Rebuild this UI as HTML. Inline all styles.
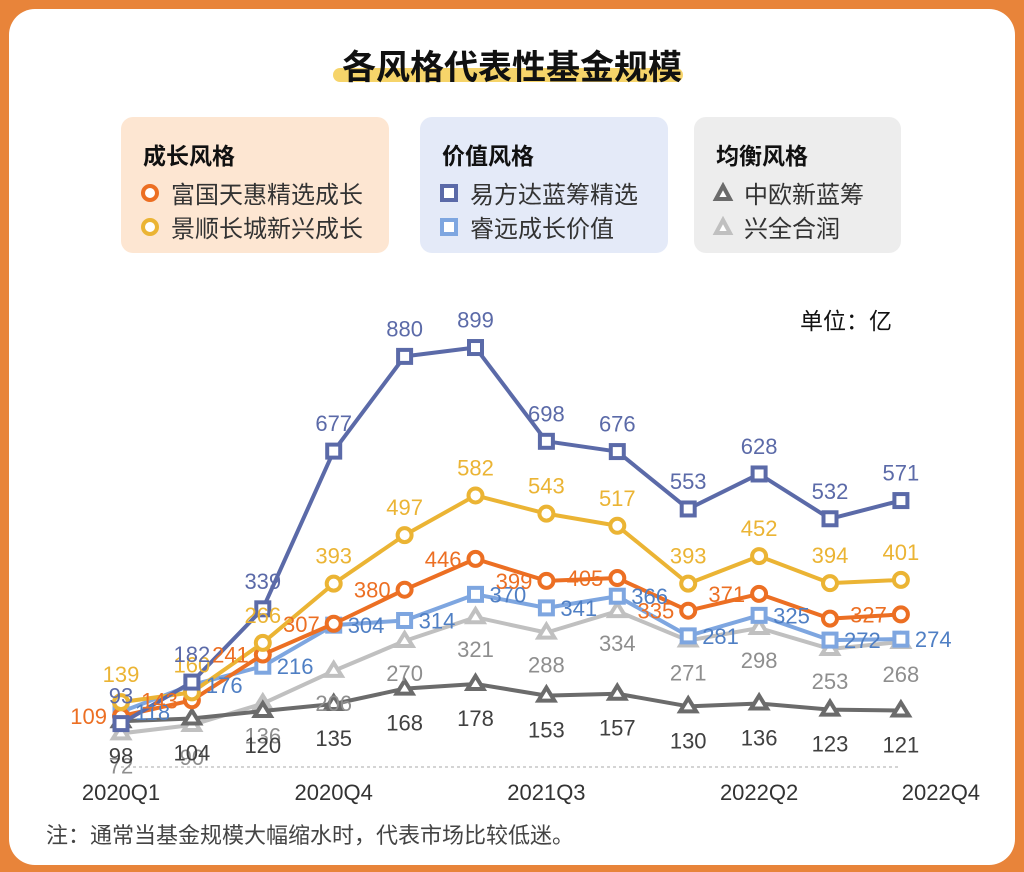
<!DOCTYPE html>
<html><head><meta charset="utf-8">
<style>
html,body{margin:0;padding:0;}
body{width:1024px;height:872px;background:#e8843a;position:relative;overflow:hidden;font-family:"Liberation Sans","Noto Sans CJK SC",sans-serif;}
#card{position:absolute;left:9px;top:9px;width:1006px;height:856px;background:#fff;border-radius:26px;}
.title{position:absolute;left:0;width:1024px;top:40px;text-align:center;font-size:34px;font-weight:bold;color:#111;z-index:2;}
.hl{position:absolute;left:333px;top:68px;width:350px;height:14px;background:#f6d46a;border-radius:7px;}
.box{position:absolute;top:117px;height:136px;border-radius:12px;}
.box h3{margin:0;position:absolute;left:22px;top:20px;font-size:23px;font-weight:bold;color:#111;}
.item{position:absolute;left:18px;font-size:24px;color:#333;display:flex;align-items:center;white-space:nowrap;}
.item svg{margin-right:10px;}
.unit{position:absolute;left:800px;top:302px;font-size:23px;color:#111;}
.note{position:absolute;left:46px;top:818px;font-size:22px;color:#444;}
</style></head><body>
<div id="card"></div>
<div class="hl"></div>
<div class="title">各风格代表性基金规模</div>

<div class="box" style="left:121px;width:268px;background:#fde6d2">
<h3>成长风格</h3>
<div class="item" style="top:58px"><svg width="22" height="22"><circle cx="11" cy="11" r="7" fill="#fff" stroke="#ec6f23" stroke-width="4"/></svg>富国天惠精选成长</div>
<div class="item" style="top:92px"><svg width="22" height="22"><circle cx="11" cy="11" r="7" fill="#fff" stroke="#ebb434" stroke-width="4"/></svg>景顺长城新兴成长</div>
</div>
<div class="box" style="left:420px;width:248px;background:#e4eaf8">
<h3>价值风格</h3>
<div class="item" style="top:58px"><svg width="22" height="22"><rect x="4" y="4" width="14" height="14" fill="#fff" stroke="#5b6aa8" stroke-width="4"/></svg>易方达蓝筹精选</div>
<div class="item" style="top:92px"><svg width="22" height="22"><rect x="4" y="4" width="14" height="14" fill="#fff" stroke="#7ea6e0" stroke-width="4"/></svg>睿远成长价值</div>
</div>
<div class="box" style="left:694px;width:207px;background:#ededed">
<h3>均衡风格</h3>
<div class="item" style="top:58px"><svg width="22" height="22"><polygon points="11,4 18,17 4,17" fill="#fff" stroke="#6b6b6b" stroke-width="4"/></svg>中欧新蓝筹</div>
<div class="item" style="top:92px"><svg width="22" height="22"><polygon points="11,4 18,17 4,17" fill="#fff" stroke="#c0c0c0" stroke-width="4"/></svg>兴全合润</div>
</div>
<div class="unit">单位：亿</div>
<div class="note">注：通常当基金规模大幅缩水时，代表市场比较低迷。</div>

<svg id="chart" width="1024" height="872" style="position:absolute;left:0;top:0"></svg>
<script>
const categories=['2020Q1','2020Q2','2020Q3','2020Q4','2021Q1','2021Q2','2021Q3','2021Q4','2022Q1','2022Q2','2022Q3','2022Q4'];
const tickLabels=['2020Q1','2020Q4','2021Q3','2022Q2','2022Q4'];
const tickIndex=[0,3,6,9,11];
const fuguo=[109,143,241,307,380,446,399,405,335,371,318,327];
const jingshun=[139,160,266,393,497,582,543,517,393,452,394,401];
const yifangda=[93,182,339,677,880,899,698,676,553,628,532,571];
const ruiyuan=[118,176,216,304,314,370,341,366,281,325,272,274];
const zhongou=[98,104,120,135,168,178,153,157,130,136,123,121];
const xingquan=[72,90,136,206,270,321,288,334,271,298,253,268];
const fuguoLabels=[109,143,241,307,380,446,399,405,335,371,null,327];

const svg=document.getElementById('chart');
const NS='http://www.w3.org/2000/svg';
const x=i=>121+i*70.9;
const y=v=>767-v*0.4666;
function mk(t,a){const e=document.createElementNS(NS,t);for(const k in a)e.setAttribute(k,a[k]);svg.appendChild(e);return e;}

const base=mk('line',{x1:121,x2:901,y1:767,y2:767,stroke:'#aaa','stroke-dasharray':'3,3','stroke-width':1});


tickIndex.forEach((ix,k)=>{
  const t=mk('text',{x:x(ix)+(ix===11?40:0),y:800,'text-anchor':'middle','font-size':22,fill:'#333'});
  t.textContent=tickLabels[k];
  
  
});

const series=[
 {id:'xingquan',d:xingquan,c:'#c0c0c0',m:'tri',lc:'#8e8e8e',dx:0,dy:40,anchor:'middle'},
 {id:'zhongou',d:zhongou,c:'#6b6b6b',m:'tri',lc:'#404040',dx:0,dy:42,anchor:'middle'},
 {id:'ruiyuan',d:ruiyuan,c:'#7ea6e0',m:'sq',lc:'#4f7fc4',dx:14,dy:8,anchor:'start'},
 {id:'fuguo',d:fuguo,c:'#ec6f23',m:'circ',lc:'#ec6f23',dx:-14,dy:8,anchor:'end',labels:fuguoLabels},
 {id:'jingshun',d:jingshun,c:'#ebb434',m:'circ',lc:'#ebb434',dx:0,dy:-20,anchor:'middle'},
 {id:'yifangda',d:yifangda,c:'#5b6aa8',m:'sq',lc:'#5b6aa8',dx:0,dy:-20,anchor:'middle'}
];
series.forEach(s=>{
  const p=mk('polyline',{points:s.d.map((v,i)=>x(i)+','+y(v)).join(' '),fill:'none',stroke:s.c,'stroke-width':4,'stroke-linejoin':'round'});
  
  
  s.d.forEach((v,i)=>{
    const cx=x(i),cy=y(v);let m;
    if(s.m==='circ')m=mk('circle',{cx,cy,r:7,fill:'#fff',stroke:s.c,'stroke-width':4});
    else if(s.m==='sq')m=mk('rect',{x:cx-6.5,y:cy-6.5,width:13,height:13,fill:'#fff',stroke:s.c,'stroke-width':4});
    else m=mk('polygon',{points:`${cx},${cy-8} ${cx+8},${cy+5} ${cx-8},${cy+5}`,fill:'#fff',stroke:s.c,'stroke-width':4});
    
    
  });
});
series.forEach(s=>{
  s.d.forEach((v,i)=>{
    const lab=s.labels?s.labels[i]:v;
    if(lab===null)return;
    const t=mk('text',{x:x(i)+s.dx,y:y(v)+s.dy,'text-anchor':s.anchor,'font-size':22,fill:s.lc});
    t.textContent=lab;
    
    
  });
});
</script>
</body></html>
